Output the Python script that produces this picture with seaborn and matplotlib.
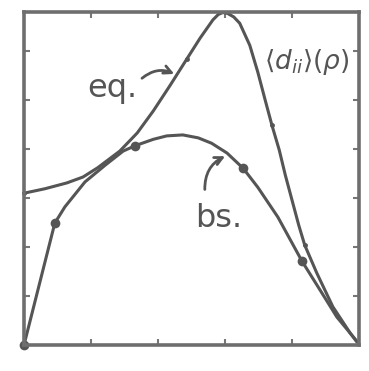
import matplotlib
matplotlib.use("Agg")
import matplotlib.pyplot as plt
import seaborn as sns
import pandas as pd

# equilibrium curve <d_ii>(rho)
eq_x = [0.00, 0.31, 0.64, 0.88, 1.10, 1.43, 1.69, 1.93, 2.18, 2.43, 2.63, 2.82,
        2.90, 2.97, 3.04, 3.13, 3.22, 3.37, 3.49, 3.60, 3.70, 3.81, 3.90, 4.00,
        4.10, 4.19, 4.37, 4.61, 4.87, 4.99]
eq_y = [3.10, 3.19, 3.31, 3.43, 3.62, 3.96, 4.33, 4.78, 5.30, 5.84, 6.27, 6.64,
        6.75, 6.79, 6.77, 6.70, 6.57, 6.12, 5.57, 5.00, 4.49, 3.98, 3.47, 2.96,
        2.45, 2.04, 1.47, 0.78, 0.24, 0.04]

# bs curve
bs_x = [0.00, 0.46, 0.61, 0.91, 1.21, 1.48, 1.66, 1.93, 2.13, 2.37, 2.60, 2.80,
        3.03, 3.27, 3.49, 3.79, 4.15, 4.42, 4.67, 4.87, 4.97]
bs_y = [0.00, 2.49, 2.82, 3.33, 3.67, 3.96, 4.07, 4.20, 4.27, 4.29, 4.23, 4.12,
        3.92, 3.61, 3.22, 2.61, 1.71, 1.12, 0.57, 0.24, 0.06]
bs_marked = [0, 1, 6, 13, 16]
eq_marked = [0, 9, 20, 25]

x_ticks = [1, 2, 3, 4]
y_ticks = [1, 2, 3, 4, 5, 6]

sns.set_style("white")
plt.rcParams['font.family'] = ['DejaVu Sans']

ink = "#555555"
fig = plt.figure(figsize=(3.69, 3.71), dpi=100)
ax = fig.add_axes([24 / 369, 1 - 345 / 371, 335 / 369, 333 / 371])

eq_df = pd.DataFrame({"x": eq_x, "y": eq_y})
bs_df = pd.DataFrame({"x": bs_x, "y": bs_y})

sns.lineplot(data=eq_df, x="x", y="y", sort=False, estimator=None, ax=ax,
             color=ink, linewidth=2.2, marker="o", markersize=3.5,
             markevery=eq_marked, markeredgewidth=0, clip_on=False,
             solid_joinstyle="round")
sns.lineplot(data=bs_df, x="x", y="y", sort=False, estimator=None, ax=ax,
             color=ink, linewidth=2.2, marker="o", markersize=7,
             markevery=bs_marked, markeredgewidth=0, clip_on=False,
             solid_joinstyle="round")

ax.set_xlim(0, 5)
ax.set_ylim(0, 6.8)
ax.set_xticks(x_ticks)
ax.set_yticks(y_ticks)
ax.set_xticklabels([])
ax.set_yticklabels([])
ax.set_xlabel("")
ax.set_ylabel("")
ax.tick_params(direction="in", length=4, width=1.5, color="#777777",
               top=True, right=True, bottom=True, left=True)
for sp in ax.spines.values():
    sp.set_visible(True)
    sp.set_color("#6e6e6e")
    sp.set_linewidth(2.6)

ax.text(0.94, 5.06, "eq.", fontsize=23, color=ink, ha="left", va="baseline")
ax.text(2.55, 2.41, "bs.", fontsize=23, color=ink, ha="left", va="baseline")
ax.text(3.58, 5.63, r"$\langle d_{ii}\rangle(\rho)$", fontsize=19, color=ink,
        ha="left", va="baseline")

arrow = dict(arrowstyle="->", color=ink, lw=2.0, mutation_scale=14)
ax.annotate("", xy=(2.28, 5.51), xytext=(1.73, 5.41),
            arrowprops=dict(connectionstyle="arc3,rad=-0.35", **arrow))
ax.annotate("", xy=(3.04, 3.88), xytext=(2.70, 3.12),
            arrowprops=dict(connectionstyle="arc3,rad=-0.35", **arrow))

fig.savefig("out.png", dpi=100)
